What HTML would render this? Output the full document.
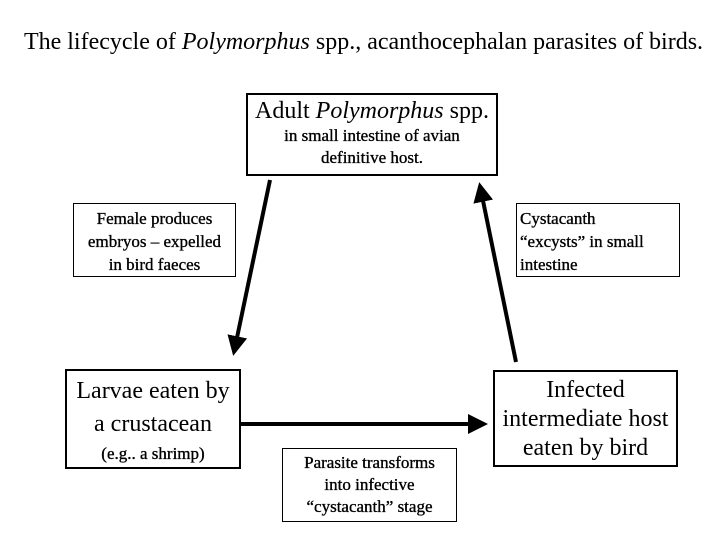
<!DOCTYPE html>
<html><head><style>
body{margin:0;width:720px;height:540px;background:#fff;position:relative;font-family:"Liberation Serif",serif;color:#000;overflow:hidden}
.b{position:absolute;box-sizing:border-box;background:#fff;text-align:center;white-space:nowrap}
.s{font-size:17px;line-height:23px;-webkit-text-stroke:0.35px #000}
.t{position:absolute;left:0;top:29px;width:727px;text-align:center;font-size:24px;white-space:nowrap}
</style></head><body>
<div class="t">The lifecycle of <i>Polymorphus</i> spp., acanthocephalan parasites of birds.</div>
<svg style="position:absolute;left:0;top:0" width="720" height="540">
<defs><marker id="a" markerWidth="5" markerHeight="5" refX="4" refY="2.5" orient="auto" markerUnits="strokeWidth"><path d="M0,0 L5,2.5 L0,5 z"/></marker></defs>
<line x1="270" y1="180" x2="234" y2="352" stroke="#000" stroke-width="4" marker-end="url(#a)"/>
<line x1="516" y1="362" x2="480" y2="186" stroke="#000" stroke-width="4" marker-end="url(#a)"/>
<line x1="240" y1="424" x2="484" y2="424" stroke="#000" stroke-width="4" marker-end="url(#a)"/>
</svg>
<div class="b" style="left:246px;top:93px;width:252px;height:83px;border:2.5px solid #000;padding-top:3px">
<div style="font-size:24px;line-height:27px">Adult <i>Polymorphus</i> spp.</div>
<div class="s" style="line-height:22px">in small intestine of avian<br>definitive host.</div></div>
<div class="b s" style="left:73px;top:203px;width:163px;height:74px;border:1px solid #000;padding-top:3px">Female produces<br>embryos – expelled<br>in bird faeces</div>
<div class="b s" style="left:516px;top:203px;width:164px;height:74px;border:1px solid #000;padding-top:3px;text-align:left;padding-left:3px">Cystacanth<br>“excysts” in small<br>intestine</div>
<div class="b" style="left:65px;top:369px;width:176px;height:100px;border:2.5px solid #000;padding-top:4px">
<div style="font-size:24px;line-height:33px">Larvae eaten by<br>a crustacean</div>
<div class="s" style="line-height:26px">(e.g.. a shrimp)</div></div>
<div class="b" style="left:493px;top:370px;width:185px;height:97px;border:2.5px solid #000;padding-top:4px;font-size:24px;line-height:29px">Infected<br>intermediate host<br>eaten by bird</div>
<div class="b s" style="left:282px;top:448px;width:175px;height:74px;border:1px solid #000;padding-top:3px;line-height:22px">Parasite transforms<br>into infective<br>“cystacanth” stage</div>
</body></html>
